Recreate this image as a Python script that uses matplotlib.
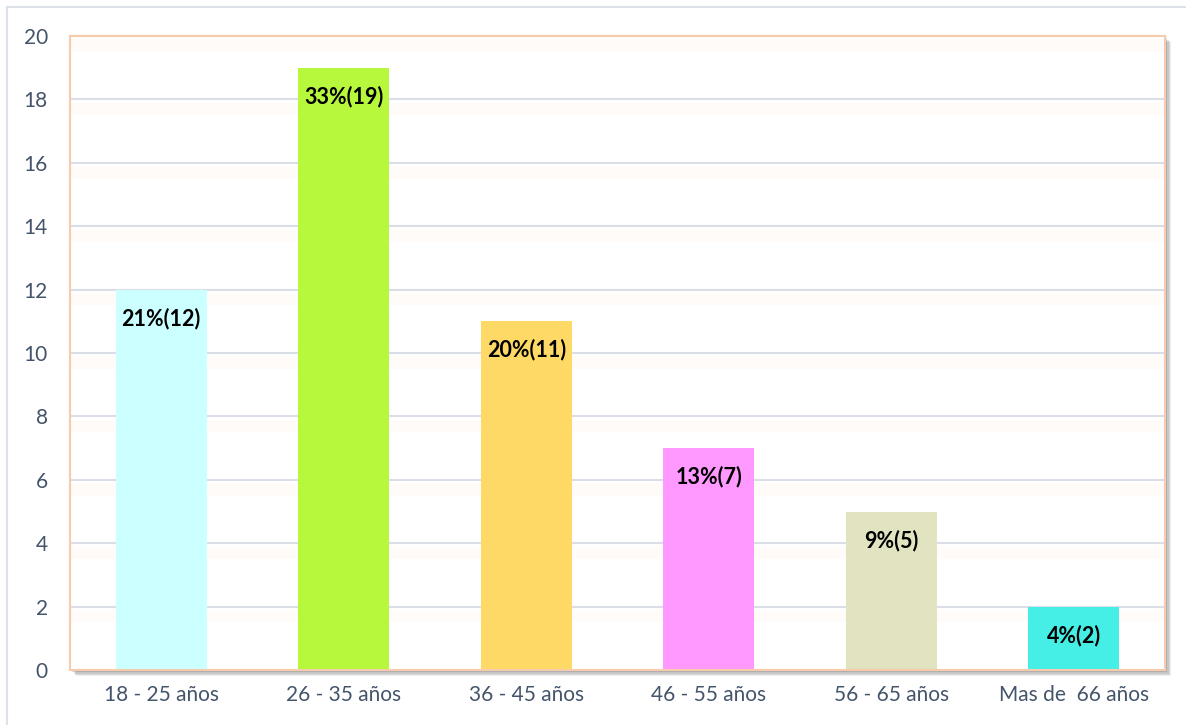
import matplotlib.pyplot as plt
from matplotlib.patches import Rectangle
from matplotlib.lines import Line2D

categories = ['18 - 25 años', '26 - 35 años', '36 - 45 años', '46 - 55 años', '56 - 65 años', 'Mas de  66 años']
counts = [12, 19, 11, 7, 5, 2]
pct_labels = ['21%(12)', '33%(19)', '20%(11)', '13%(7)', '9%(5)', '4%(2)']
bar_colors = ['#CCFFFF', '#B8F83C', '#FFD966', '#FF99FF', '#E1E3C1', '#45EFE6']
yticks = [0, 2, 4, 6, 8, 10, 12, 14, 16, 18, 20]

plt.rcParams['font.family'] = ['Lato', 'DejaVu Sans']

W, H = 1186, 725
fig = plt.figure(figsize=(W / 100, H / 100), dpi=100)

# plot area in pixels
left, top, right, bottom = 70, 36, 1165, 670
ax = fig.add_axes([left / W, 1 - bottom / H, (right - left) / W, (bottom - top) / H])

# outer chart frame
fig.add_artist(Line2D([7 / W, 1], [1 - 7 / H, 1 - 7 / H], color='#DDE2EA', lw=1.5))
fig.add_artist(Line2D([7 / W, 7 / W], [0, 1 - 7 / H], color='#DDE2EA', lw=1.5))

# soft shadow behind the plot area
for i, a in enumerate([0.10, 0.12, 0.15, 0.2]):
    off = 6 - i * 1.2
    fig.add_artist(Rectangle(((left + off) / W, 1 - (bottom + off) / H),
                             (right - left) / W, (bottom - top) / H,
                             transform=fig.transFigure, color='#555555', alpha=a,
                             lw=0, zorder=-5))
fig.add_artist(Rectangle((left / W, 1 - bottom / H), (right - left) / W, (bottom - top) / H,
                         transform=fig.transFigure, color='white', lw=0, zorder=-4))

x = range(len(categories))
ax.set_facecolor('none')
ax.set_xlim(-0.5, len(categories) - 0.5)
ax.set_ylim(0, 20)

# faint orange glow under each gridline
for y in yticks[1:]:
    ax.axhspan(y - 0.5, y - 0.1, color='#FCEBDD', alpha=0.18, lw=0, zorder=0)
for y in yticks[1:-1]:
    ax.axhline(y, color='#D9DEE7', lw=1.5, zorder=1)

ax.bar(x, counts, width=0.5, color=bar_colors, zorder=2)
for i, (v, lab) in enumerate(zip(counts, pct_labels)):
    ax.text(i, v - 0.9, lab, ha='center', va='center', fontsize=15.5,
            fontweight='bold', color='black', zorder=3)

ax.set_yticks(yticks)
ax.set_xticks(list(x))
ax.set_xticklabels(categories)
ax.tick_params(axis='both', length=0, labelsize=15, labelcolor='#44546A')
ax.tick_params(axis='y', pad=16)
ax.tick_params(axis='x', pad=11)
for s in ax.spines.values():
    s.set_color('#F8CBAD')
    s.set_linewidth(1.5)

fig.savefig('out.png', dpi=100)
